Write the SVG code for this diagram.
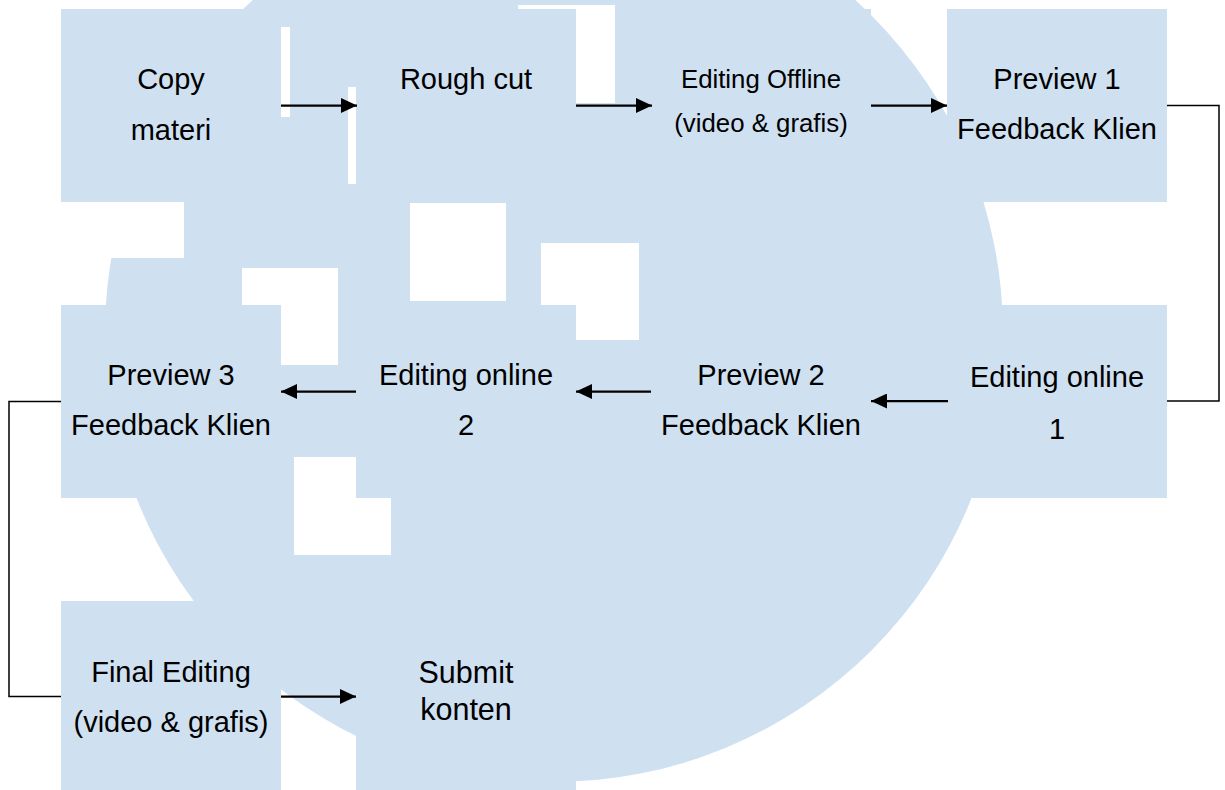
<svg xmlns="http://www.w3.org/2000/svg" width="1225" height="790" viewBox="0 0 1225 790">
  <defs>
    <style>
      .box { fill: #cfe0f1; }
      .wm { fill: #cfe0f1; }
      .hole { fill: #ffffff; }
      .lbl { font-family: "Liberation Sans", Arial, sans-serif; font-size: 29px; fill: #000; text-anchor: middle; }
      .sm { font-size: 25.8px; }
      .lg { font-size: 30.5px; }
      .arrow { stroke: #000; stroke-width: 2.25; fill: none; marker-end: url(#ah); }
      .elbow { stroke: #000; stroke-width: 1.5; fill: none; }
    </style>
    <marker id="ah" markerUnits="userSpaceOnUse" markerWidth="16" markerHeight="15" refX="16" refY="7.5" orient="auto">
      <path d="M0,0 L16,7.5 L0,15 z" fill="#000"/>
    </marker>
  </defs>
  <rect width="1225" height="790" fill="#ffffff"/>
  <g id="watermark">
    <circle class="wm" cx="554" cy="333" r="449"/>
    <rect class="hole" x="100" y="180" width="84" height="78"/>
    <rect class="hole" x="242" y="268" width="96" height="97"/>
    <rect class="hole" x="410" y="203" width="96" height="98"/>
    <rect class="hole" x="541" y="243" width="98" height="97"/>
    <rect class="hole" x="294" y="457" width="97" height="98"/>
    <rect class="hole" x="518" y="5" width="97" height="98"/>
    <rect class="hole" x="230" y="27" width="60" height="90"/>
    <rect class="hole" x="348" y="87" width="72" height="97"/>
  </g>
  <g id="n-copy">
    <rect class="box" x="61" y="9" width="220" height="193"/>
    <text class="lbl" x="171" y="89">Copy</text>
    <text class="lbl" x="171" y="140">materi</text>
  </g>
  <g id="n-rough">
    <rect class="box" x="356" y="9" width="220" height="193"/>
    <text class="lbl" x="466" y="89">Rough cut</text>
  </g>
  <g id="n-offline">
    <rect class="box" x="651" y="9" width="220" height="193"/>
    <text class="lbl sm" x="761" y="87.5">Editing Offline</text>
    <text class="lbl sm" x="761" y="131.5">(video &amp; grafis)</text>
  </g>
  <g id="n-preview1">
    <rect class="box" x="947" y="9" width="220" height="193"/>
    <text class="lbl" x="1057" y="89">Preview 1</text>
    <text class="lbl" x="1057" y="139">Feedback Klien</text>
  </g>
  <g id="n-online1">
    <rect class="box" x="948" y="305" width="219" height="193"/>
    <text class="lbl" x="1057" y="387">Editing online</text>
    <text class="lbl" x="1057" y="439">1</text>
  </g>
  <g id="n-preview2">
    <rect class="box" x="651" y="305" width="220" height="193"/>
    <text class="lbl" x="761" y="385">Preview 2</text>
    <text class="lbl" x="761" y="435">Feedback Klien</text>
  </g>
  <g id="n-online2">
    <rect class="box" x="356" y="305" width="220" height="193"/>
    <text class="lbl" x="466" y="385">Editing online</text>
    <text class="lbl" x="466" y="435">2</text>
  </g>
  <g id="n-preview3">
    <rect class="box" x="61" y="305" width="220" height="193"/>
    <text class="lbl" x="171" y="385">Preview 3</text>
    <text class="lbl" x="171" y="435">Feedback Klien</text>
  </g>
  <g id="n-final">
    <rect class="box" x="61" y="601" width="220" height="193"/>
    <text class="lbl" x="171" y="682">Final Editing</text>
    <text class="lbl" x="171" y="732">(video &amp; grafis)</text>
  </g>
  <g id="n-submit">
    <rect class="box" x="356" y="601" width="220" height="193"/>
    <text class="lbl lg" x="466" y="683">Submit</text>
    <text class="lbl lg" x="466" y="720">konten</text>
  </g>
  <g id="connectors">
    <line class="arrow" x1="281" y1="105.5" x2="357" y2="105.5"/>
    <line class="arrow" x1="576" y1="105.5" x2="652" y2="105.5"/>
    <line class="arrow" x1="871" y1="105.5" x2="947" y2="105.5"/>
    <polyline class="elbow" points="1167,105.5 1219,105.5 1219,401 1167,401"/>
    <line class="arrow" x1="948" y1="401" x2="871" y2="401"/>
    <line class="arrow" x1="651" y1="391.5" x2="576" y2="391.5"/>
    <line class="arrow" x1="356" y1="391.5" x2="281" y2="391.5"/>
    <polyline class="elbow" points="61,401.5 9,401.5 9,696.5 61,696.5"/>
    <line class="arrow" x1="281" y1="696.5" x2="356" y2="696.5"/>
  </g>
</svg>
